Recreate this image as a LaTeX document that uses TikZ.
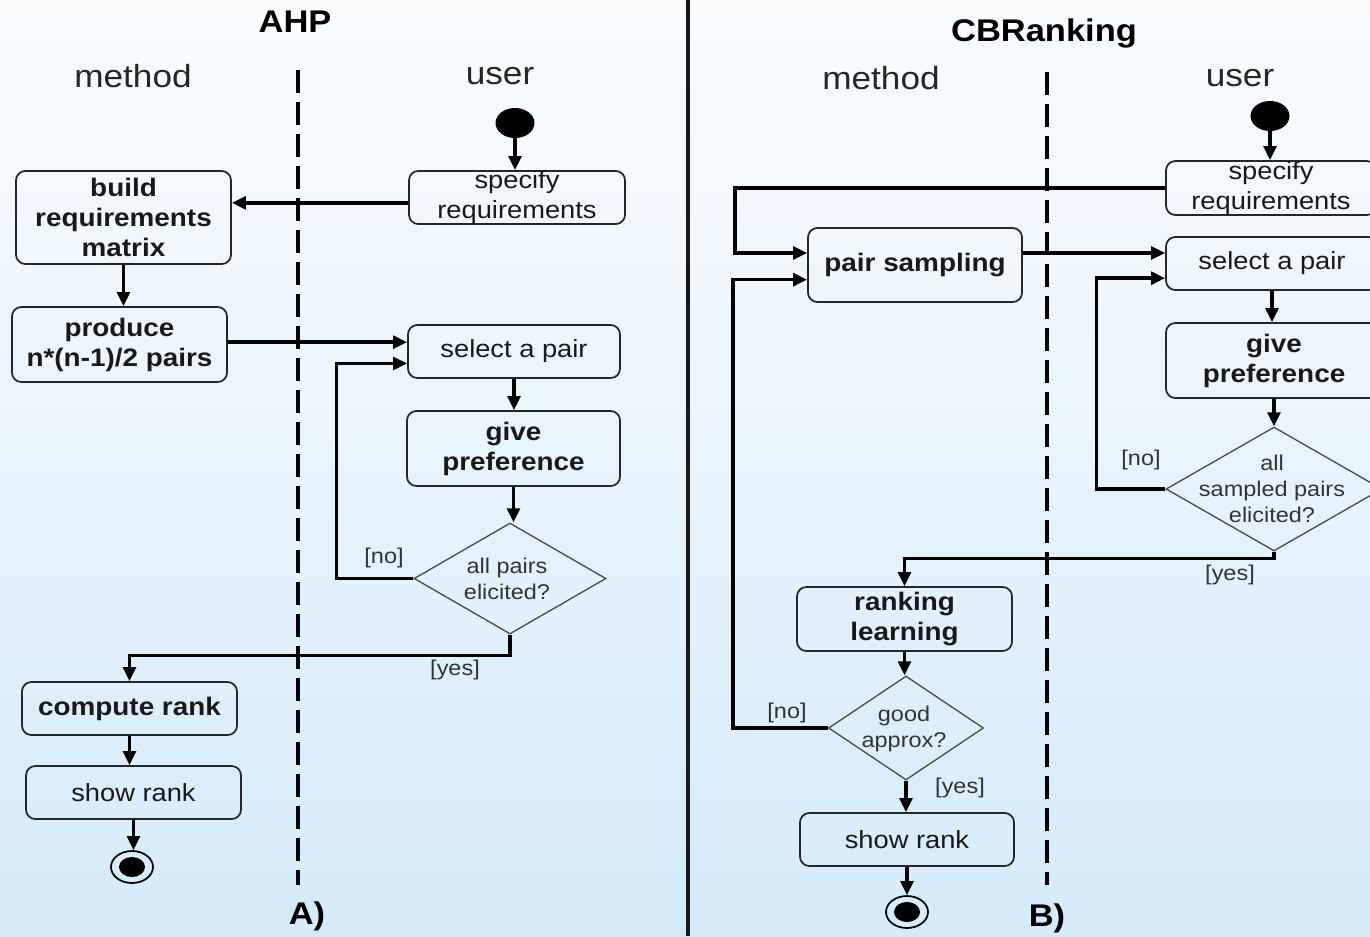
\documentclass[tikz,border=0pt]{standalone}
\usepackage{fontspec}
\setmainfont{Liberation Sans}[FakeStretch=1.1]
\usetikzlibrary{arrows.meta,shapes.geometric}
\definecolor{bgtop}{HTML}{FAFCFE}
\definecolor{bgbot}{HTML}{D5EBFA}
\begin{document}
\begin{tikzpicture}[x=0.75pt,y=-0.75pt,
  box/.style={draw=black!85, line width=1.3pt, rounded corners=7pt, inner sep=0pt, align=center, font=\fontsize{18.6}{22.5}\selectfont, text=black!90},
  bbox/.style={box, font=\fontsize{19}{22.5}\selectfont\bfseries},
  sz/.style 2 args={minimum width={#1*0.75pt}, minimum height={#2*0.75pt}},
  dia/.style={diamond, draw=black!70, line width=1pt, inner sep=0pt},
  dtext/.style={align=center, font=\fontsize{16}{19.5}\selectfont, text=black!80, inner sep=0pt},
  guard/.style={font=\fontsize{16}{19}\selectfont, text=black!80, inner sep=0pt},
  arr/.style={line width=2.6pt, -{Triangle[length=10.5pt,width=9.5pt]}, black},
  lane/.style={font=\fontsize{24}{28}\selectfont, text=black!85},
  ttl/.style={font=\fontsize{23.5}{28}\selectfont\bfseries},
  startn/.style={ellipse, fill=black, minimum width={39*0.75pt}, minimum height={30*0.75pt}, inner sep=0pt},
  endo/.style={ellipse, draw=black, line width=1.3pt, minimum width={42*0.75pt}, minimum height={32*0.75pt}, inner sep=0pt},
  endi/.style={ellipse, fill=black, minimum width={26*0.75pt}, minimum height={20*0.75pt}, inner sep=0pt},
  swim/.style={line width=2.8pt, dash pattern=on 17pt off 7pt},
]
\useasboundingbox (0,0) rectangle (1370,936);
\clip (0,0) rectangle (1370,936);
\shade[top color=bgtop, bottom color=bgbot] (0,0) rectangle (1370,936);

% separators and swimlanes
\draw[line width=2.4pt, black!90] (688,0) -- (688,936);
\draw[swim] (298,70) -- (298,885);
\draw[swim] (1047,72) -- (1047,885);

% titles
\node[ttl] (tA) at (295,22) {AHP};
\node[ttl] (tB) at (1044,33) {CBRanking};
\node[lane] (mA) at (133,76) {method};
\node[lane] (uA) at (500,76) {user};
\node[lane] (mB) at (881,78) {method};
\node[lane] (uB) at (1240,78) {user};
\node[ttl] (lA) at (307,916) {A)};
\node[ttl] (lB) at (1047,918) {B)};

% ---------------- AHP ----------------
\node[startn] (s1) at (515,123) {};
\node[box, sz={216}{53}] (spec1) at (517,197.5) {specify\\requirements};
\node[bbox, sz={215}{93}] (build) at (123.5,217.5) {build\\requirements\\matrix};
\node[bbox, sz={215}{75}] (prod) at (119.5,344.5) {produce\\n*(n-1)/2 pairs};
\node[box, sz={212}{53}] (sel1) at (514,351.5) {select a pair};
\node[bbox, sz={213}{75}] (give1) at (513.5,448.5) {give\\preference};
\node[dia, sz={192}{111}] (d1) at (510,578.5) {};
\node[dtext] (d1t) at (507,579) {all pairs\\elicited?};
\node[bbox, sz={215}{53}] (comp) at (129.5,708.5) {compute rank};
\node[box, sz={215}{53}] (show1) at (133.5,792.5) {show rank};
\node[endo] (e1) at (132,867) {};
\node[endi] (e1i) at (e1) {};

\draw[arr] (s1.south) -- (s1.south |- spec1.north);
\draw[arr] ([yshift=-4pt]spec1.west) -- ([yshift=-4pt]spec1.west -| build.east);
\draw[arr] (build.south) -- (build.south |- prod.north);
\draw[arr] ([yshift=7pt]sel1.west -| prod.east) -- ([yshift=7pt]sel1.west);
\draw[arr] (sel1.south) -- (sel1.south |- give1.north);
\draw[arr] (give1.south) -- (give1.south |- d1.north);
\draw[arr] (d1.west) -- ++(-77,0) |- ([yshift=-9pt]sel1.west);
\draw[arr] (d1.south) -- ++(0,21) -| (comp.north);
\draw[arr] (comp.south) -- (comp.south |- show1.north);
\draw[arr] (show1.south) -- (show1.south |- e1.north);
\node[guard] (no1) at (384,558) {[no]};
\node[guard] (yes1) at (455,670) {[yes]};

% ---------------- CBRanking ----------------
\node[startn] (s2) at (1270,116) {};
\node[box, sz={210}{54}] (spec2) at (1271,188) {specify\\requirements};
\node[bbox, sz={214}{74}] (ps) at (915,265) {pair sampling};
\node[box, sz={212}{53}] (sel2) at (1272,263.5) {select a pair};
\node[bbox, sz={216}{75}] (give2) at (1274,360.5) {give\\preference};
\node[dia, sz={216}{124}] (d2) at (1274,489) {};
\node[dtext] (d2t) at (1272,488.5) {all\\sampled pairs\\elicited?};
\node[bbox, sz={215}{64}] (rl) at (904.5,619) {ranking\\learning};
\node[dia, sz={155}{104}] (d3) at (906,728) {};
\node[dtext] (d3t) at (904,728.5) {good\\approx?};
\node[box, sz={214}{53}] (show2) at (907,839.5) {show rank};
\node[endo] (e2) at (907,912) {};
\node[endi] (e2i) at (e2) {};

\draw[arr] (s2.south) -- (s2.south |- spec2.north);
\draw[arr] (spec2.west) -- ++(-430,0) |- ([yshift=9pt]ps.west);
\draw[arr] ([yshift=9pt]ps.east) -- ([yshift=9pt]ps.east -| sel2.west);
\draw[arr] (sel2.south) -- (sel2.south |- give2.north);
\draw[arr] (give2.south) -- (give2.south |- d2.north);
\draw[arr] (d2.west) -- ++(-69,0) |- ([yshift=-11pt]sel2.west);
\draw[arr] (d2.south) -- ++(0,7) -| (rl.north);
\draw[arr] (rl.south) -- (rl.south |- d3.north);
\draw[arr] (d3.west) -- ++(-95,0) |- ([yshift=-11pt]ps.west);
\draw[arr] (d3.south) -- (d3.south |- show2.north);
\draw[arr] (show2.south) -- (show2.south |- e2.north);
\node[guard] (no2) at (1141,460) {[no]};
\node[guard] (yes2) at (1230,575) {[yes]};
\node[guard] (no3) at (787,713) {[no]};
\node[guard] (yes3) at (960,788) {[yes]};
\end{tikzpicture}
\end{document}
